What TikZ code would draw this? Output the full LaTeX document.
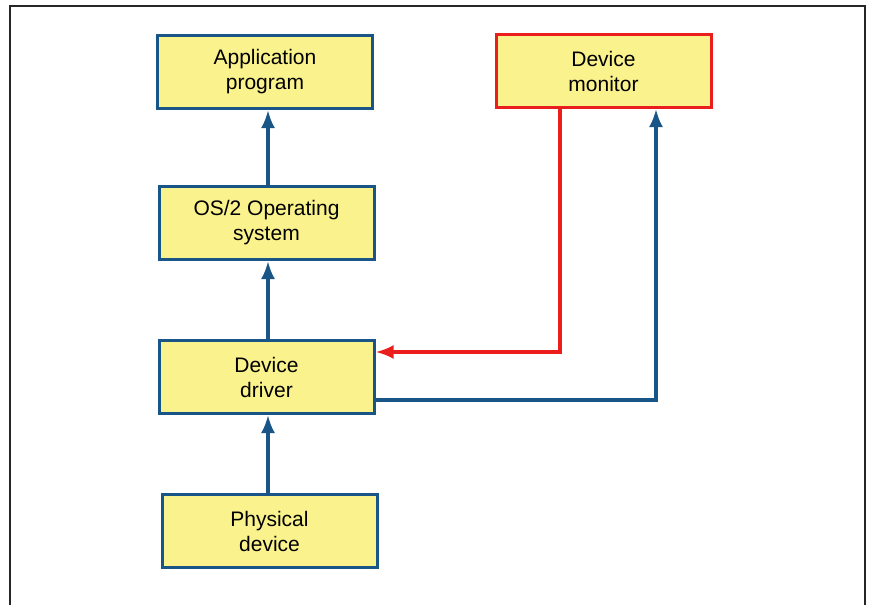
\documentclass[tikz,border=0pt]{standalone}
\usepackage{fontspec}
\setmainfont{Liberation Sans}
\usetikzlibrary{arrows.meta}
\definecolor{boxfill}{RGB}{250,242,140}
\definecolor{boxblue}{RGB}{25,85,135}
\definecolor{boxred}{RGB}{235,30,30}
\begin{document}
\begin{tikzpicture}[x=1pt,y=-1pt,
  blk/.style={draw=boxblue,line width=3pt,fill=boxfill,minimum width=215pt,minimum height=73pt,
     align=center,font=\fontsize{21}{25}\selectfont,inner sep=0pt},
  redblk/.style={blk,draw=boxred},
  conn/.style={line width=3.4pt,draw=boxblue,-{Latex[length=18pt,width=14pt]}},
  redconn/.style={conn,draw=boxred}]
\useasboundingbox (0,0) rectangle (871,605);
\draw[line width=2.5pt,black!85] (10,605) -- (10,6) -- (865,6) -- (865,605);
\node[blk] (app) at (265,72) {Application\\program};
\node[redblk] (mon) at (603.5,71) {Device\\monitor};
\node[blk] (os) at (266.5,223) {OS/2 Operating\\system};
\node[blk] (drv) at (266.5,377) {Device\\driver};
\node[blk] (phy) at (269.5,531) {Physical\\device};
\coordinate (rc) at (560,352);
\coordinate (bc) at (656,400);
\draw[conn] (os.north -| 268,0) -- (app.south -| 268,0);
\draw[conn] (drv.north -| 268,0) -- (os.south -| 268,0);
\draw[conn] (phy.north -| 268,0) -- (drv.south -| 268,0);
\draw[redconn] (mon.south -| rc) -- (rc) -- (rc -| drv.east);
\draw[conn] (bc -| drv.east) -- (bc) -- (mon.south -| bc);
\end{tikzpicture}
\end{document}
